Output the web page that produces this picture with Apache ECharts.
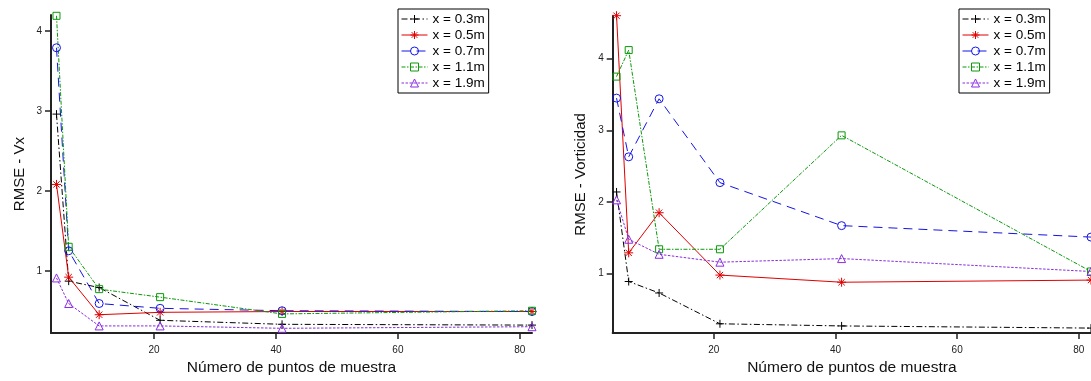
<!DOCTYPE html>
<html>
<head>
<meta charset="utf-8">
<script src="https://cdn.jsdelivr.net/npm/echarts@6/dist/echarts.min.js"></script>
<style>
  html, body { margin: 0; padding: 0; background: #fff; }
  #chart { width: 1091px; height: 381px; }
</style>
</head>
<body>
<div id="chart"></div>
<script>
// Number of sample points (shared x positions of both panels)
const samplePoints = [4, 6, 11, 21, 41, 82];

const seriesNames = ['x = 0.3m', 'x = 0.5m', 'x = 0.7m', 'x = 1.1m', 'x = 1.9m'];

// RMSE of Vx, one array per probe position
const vx03 = [2.96, 0.87, 0.79, 0.38, 0.33, 0.32];
const vx05 = [2.08, 0.92, 0.45, 0.48, 0.49, 0.49];
const vx07 = [3.79, 1.25, 0.59, 0.53, 0.50, 0.49];
const vx11 = [4.19, 1.30, 0.77, 0.67, 0.46, 0.50];
const vx19 = [0.91, 0.59, 0.31, 0.31, 0.28, 0.30];

// RMSE of vorticity, one array per probe position
const vo03 = [2.14, 0.89, 0.73, 0.30, 0.27, 0.24];
const vo05 = [4.60, 1.29, 1.85, 0.98, 0.88, 0.91];
const vo07 = [3.45, 2.63, 3.44, 2.27, 1.67, 1.51];
const vo11 = [3.75, 4.12, 1.34, 1.34, 2.93, 1.03];
const vo19 = [2.03, 1.48, 1.27, 1.16, 1.21, 1.03];

const yTicks = [1, 2, 3, 4];
const xTicks = [20, 40, 60, 80];

const FONT = '"Liberation Sans", Arial, sans-serif';

// Marker and line style per probe position
const styles = [
  { color: '#000000', symbol: 'path://M5,0L5,10M0,5L10,5', size: 8, dash: [6, 2.5, 1.5, 2.5] },
  { color: '#e00000', symbol: 'path://M5,0L5,10M0,5L10,5M1.5,1.5L8.5,8.5M8.5,1.5L1.5,8.5', size: 9, dash: 'solid' },
  { color: '#1414e6', symbol: 'circle', size: 8, dash: [9, 6] },
  { color: '#0a9a0a', symbol: 'rect', size: 7, dash: [4, 1.5, 1.5, 1.5] },
  { color: '#8a2be2', symbol: 'triangle', size: 8, dash: [2.5, 1.5] }
];

function pairs(ys) {
  return samplePoints.map((x, i) => [x, ys[i]]);
}

function makeSeries(values, axisIndex) {
  return values.map((ys, k) => {
    const s = styles[k];
    return {
      name: seriesNames[k],
      type: 'line',
      xAxisIndex: axisIndex,
      yAxisIndex: axisIndex,
      data: pairs(ys),
      symbol: s.symbol,
      symbolSize: s.size,
      showAllSymbol: true,
      clip: false,
      lineStyle: { color: s.color, width: 1, type: s.dash },
      itemStyle: { color: 'none', borderColor: s.color, borderWidth: 1 },
      emphasis: { disabled: true }
    };
  });
}

function xAxisFor(idx, min, max) {
  return {
    type: 'value',
    gridIndex: idx,
    min: min,
    max: max,
    name: 'Número de puntos de muestra',
    nameLocation: 'middle',
    nameGap: 25,
    nameTextStyle: { fontFamily: FONT, fontSize: 15.5, color: '#111' },
    axisLine: { show: true, onZero: false, lineStyle: { color: '#222', width: 2 } },
    axisTick: { show: true, customValues: xTicks, length: 6, lineStyle: { color: '#222', width: 1.5 } },
    axisLabel: { customValues: xTicks, fontFamily: FONT, fontSize: 10, color: '#222', margin: 12 },
    splitLine: { show: false }
  };
}

function yAxisFor(idx, min, max, title) {
  return {
    type: 'value',
    gridIndex: idx,
    min: min,
    max: max,
    name: title,
    nameLocation: 'middle',
    nameGap: 24,
    nameTextStyle: { fontFamily: FONT, fontSize: 15, color: '#111' },
    axisLine: { show: true, onZero: false, lineStyle: { color: '#222', width: 2 } },
    axisTick: { show: true, customValues: yTicks, length: 6, lineStyle: { color: '#222', width: 1.5 } },
    axisLabel: { customValues: yTicks, fontFamily: FONT, fontSize: 10, color: '#222', margin: 9 },
    splitLine: { show: false }
  };
}

function legendAt(left) {
  return {
    orient: 'vertical',
    left: left,
    top: 9,
    data: seriesNames,
    selectedMode: false,
    backgroundColor: '#fff',
    borderColor: '#000',
    borderWidth: 1,
    padding: [3, 4, 3, 3],
    itemWidth: 26,
    itemHeight: 10,
    itemGap: 2,
    lineStyle: { width: 1 },
    itemStyle: { borderWidth: 1 },
    textStyle: { fontFamily: FONT, fontSize: 13.5, color: '#000', lineHeight: 14 }
  };
}

const chart = echarts.init(document.getElementById('chart'), null, { renderer: 'canvas' });

chart.setOption({
  animation: false,
  backgroundColor: '#fff',
  grid: [
    { left: 51, right: 559, top: 15, bottom: 42 },
    { left: 612.7, right: -2, top: 15.7, bottom: 41.7 }
  ],
  legend: [legendAt(398), legendAt(959)],
  xAxis: [xAxisFor(0, 3.1, 82), xAxisFor(1, 3.37, 82)],
  yAxis: [
    yAxisFor(0, 0.22, 4.2, 'RMSE - Vx'),
    yAxisFor(1, 0.17, 4.6, 'RMSE - Vorticidad')
  ],
  series: [
    ...makeSeries([vx03, vx05, vx07, vx11, vx19], 0),
    ...makeSeries([vo03, vo05, vo07, vo11, vo19], 1)
  ]
});
</script>
</body>
</html>
